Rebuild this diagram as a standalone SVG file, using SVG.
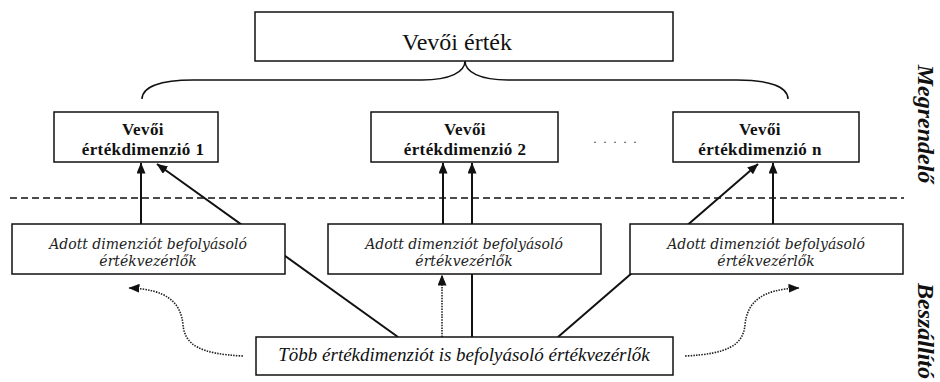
<svg xmlns="http://www.w3.org/2000/svg" width="940" height="382" viewBox="0 0 940 382">
<style>
.box{fill:#fff;stroke:#111;stroke-width:1.5}
.ln{fill:none;stroke:#111;stroke-width:2}
.thin{fill:none;stroke:#111;stroke-width:1.5}
.dot{fill:none;stroke:#222;stroke-width:1.6;stroke-dasharray:1.5 1.2}
.dash{fill:none;stroke:#111;stroke-width:1.5;stroke-dasharray:7 4}
.t1{font-family:"Liberation Serif","Times New Roman",serif;font-size:24px;fill:#111;text-anchor:middle}
.tb{font-family:"Liberation Serif","Times New Roman",serif;font-size:17px;font-weight:bold;fill:#111;text-anchor:middle;letter-spacing:0.4px}
.ti{font-family:"DejaVu Serif",serif;font-style:italic;font-size:14px;fill:#222;text-anchor:middle}
.tt{font-family:"Liberation Serif","Times New Roman",serif;font-style:italic;font-size:19px;fill:#111;text-anchor:middle}
.side{font-family:"Liberation Serif","Times New Roman",serif;font-style:italic;font-weight:bold;font-size:24px;fill:#111;text-anchor:middle}
</style>
<defs>
<marker id="ah" markerUnits="userSpaceOnUse" markerWidth="11" markerHeight="9" viewBox="0 0 11 9" refX="10.5" refY="4.5" orient="auto">
<path d="M0,0 L11,4.5 L0,9 z" fill="#111"/>
</marker>
</defs>
<g id="connectors">
<path class="thin" d="M142,99 C142,87 160,80 193,80 L422,80 C450,80 465,72 465,61 C465,72 480,80 508,80 L737,80 C770,80 788,87 788,99"/>
<line class="dash" x1="10" y1="198" x2="904" y2="198"/>
<line class="ln" x1="141" y1="224" x2="141" y2="163" marker-end="url(#ah)"/>
<line class="ln" x1="398" y1="337" x2="157" y2="164" marker-end="url(#ah)"/>
<line class="ln" x1="443" y1="224" x2="443" y2="163" marker-end="url(#ah)"/>
<line class="ln" x1="472" y1="337" x2="472" y2="163" marker-end="url(#ah)"/>
<line class="ln" x1="773" y1="224" x2="773" y2="163" marker-end="url(#ah)"/>
<line class="ln" x1="558" y1="337" x2="758" y2="164" marker-end="url(#ah)"/>
<line class="dot" x1="442" y1="337" x2="442" y2="275" marker-end="url(#ah)"/>
<path class="dot" d="M243,356 C200,354 185,345 183,325 C181,302 166,289 129,288" marker-end="url(#ah)"/>
<path class="dot" d="M685,356 C728,354 743,345 745,325 C747,302 762,289 799,288" marker-end="url(#ah)"/>
</g>
<g id="vevoi-ertek">
<rect class="box" x="255" y="12" width="418" height="49"/>
<text class="t1" x="457" y="50">Vevői érték</text>
</g>
<g id="dim1">
<rect class="box" x="54" y="112" width="164" height="50"/>
<text class="tb" x="143" y="135">Vevői</text>
<text class="tb" x="143" y="155">értékdimenzió 1</text>
</g>
<g id="dim2">
<rect class="box" x="371" y="112" width="187" height="50"/>
<text class="tb" x="465" y="135">Vevői</text>
<text class="tb" x="465" y="155">értékdimenzió 2</text>
</g>
<g id="ellipsis">
<text x="616" y="143" style="font-family:'Liberation Serif',serif;font-size:12px;fill:#333;text-anchor:middle;letter-spacing:2px">. . . . .</text>
</g>
<g id="dimn">
<rect class="box" x="673" y="112" width="186" height="50"/>
<text class="tb" x="760" y="135">Vevői</text>
<text class="tb" x="760" y="155">értékdimenzió n</text>
</g>
<g id="drivers1">
<rect class="box" x="12" y="224" width="273" height="50"/>
<text class="ti" x="148" y="249">Adott dimenziót befolyásoló</text>
<text class="ti" x="148" y="266">értékvezérlők</text>
</g>
<g id="drivers2">
<rect class="box" x="328" y="224" width="273" height="50"/>
<text class="ti" x="464" y="249">Adott dimenziót befolyásoló</text>
<text class="ti" x="464" y="266">értékvezérlők</text>
</g>
<g id="driversn">
<rect class="box" x="630" y="224" width="273" height="50"/>
<text class="ti" x="766" y="249">Adott dimenziót befolyásoló</text>
<text class="ti" x="766" y="266">értékvezérlők</text>
</g>
<g id="shared-drivers">
<rect class="box" x="256" y="337" width="417" height="38"/>
<text class="tt" x="464" y="361">Több értékdimenziót is befolyásoló értékvezérlők</text>
</g>
<g id="labels">
<text class="side" transform="translate(918,124) rotate(90)">Megrendelő</text>
<text class="side" transform="translate(918,331) rotate(90)">Beszállító</text>
</g>
</svg>
